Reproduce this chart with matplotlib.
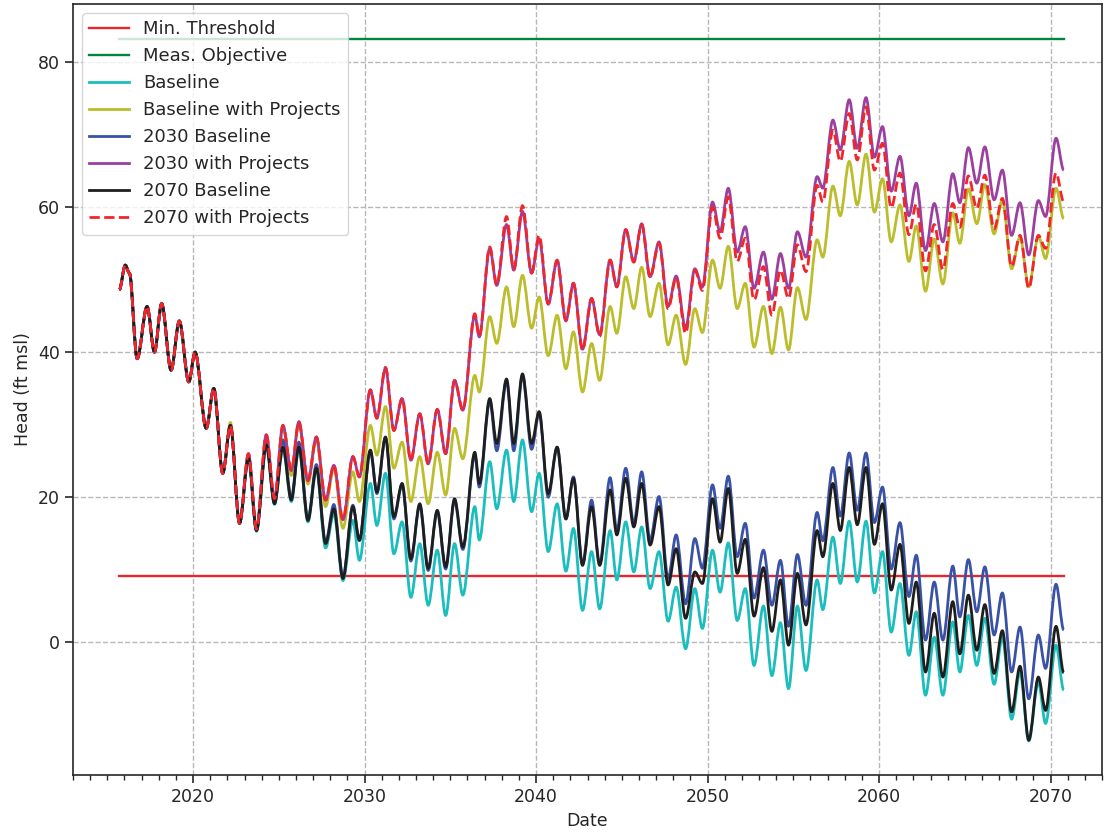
import matplotlib
matplotlib.use("Agg")
import matplotlib.pyplot as plt
from matplotlib.ticker import MultipleLocator
from matplotlib.path import Path
from matplotlib.patches import PathPatch
from matplotlib.lines import Line2D

# shared history before the scenarios split (decimal years, ft msl)
early_dates = [2015.70, 2016.05, 2016.29, 2016.74, 2017.32, 2017.75, 2018.17, 2018.72,
               2019.20, 2019.75, 2020.12, 2020.77, 2021.21, 2021.73]
early_head = [48.6, 52.0, 50.9, 39.1, 46.3, 40.0, 46.7, 37.5,
              44.3, 35.9, 40.0, 29.5, 35.0, 23.3]

# seasonal highs / lows
dates = [
    2022.18, 2022.71,
    2023.23, 2023.70, 2024.27, 2024.75, 2025.24, 2025.73, 2026.17, 2026.70, 2027.19, 2027.73,
    2028.21, 2028.74, 2029.32, 2029.70, 2030.34, 2030.72, 2031.22, 2031.71, 2032.19, 2032.70,
    2033.22, 2033.71, 2034.24, 2034.73, 2035.25, 2035.73, 2036.43, 2036.69, 2037.30, 2037.71,
    2038.28, 2038.70, 2039.21, 2039.74, 2040.18, 2040.71, 2041.23, 2041.74, 2042.18, 2042.71,
    2043.24, 2043.71, 2044.32, 2044.71, 2045.23, 2045.70, 2046.16, 2046.65, 2047.17, 2047.70,
    2048.17, 2048.72, 2049.26, 2049.70, 2050.29, 2050.73, 2051.21, 2051.73, 2052.20, 2052.71,
    2053.26, 2053.75, 2054.25, 2054.72, 2055.24, 2055.74, 2056.39, 2056.72, 2057.31, 2057.74,
    2058.26, 2058.73, 2059.24, 2059.73, 2060.20, 2060.71, 2061.22, 2061.74, 2062.17, 2062.71,
    2063.22, 2063.72, 2064.30, 2064.71, 2065.21, 2065.70, 2066.17, 2066.71, 2067.19, 2067.73,
    2068.22, 2068.73, 2069.29, 2069.71, 2070.32, 2070.77,
]

baseline = [
    29.9, 16.4,
    25.4, 15.3, 27.0, 19.0, 26.7, 19.4, 26.7, 16.6, 23.8, 13.0,
    17.8, 8.5, 16.8, 11.3, 21.9, 16.1, 23.3, 12.2, 16.6, 6.2,
    13.6, 5.1, 12.7, 3.7, 13.6, 6.5, 18.7, 14.1, 24.9, 18.4,
    26.5, 19.4, 27.9, 18.0, 23.3, 12.5, 19.1, 9.8, 15.7, 4.4,
    12.5, 4.6, 15.4, 8.6, 16.6, 9.7, 15.9, 7.4, 12.5, 2.9,
    7.6, -0.9, 7.4, 1.9, 12.7, 6.9, 13.7, 3.0, 7.4, -3.2,
    5.0, -4.6, 2.7, -6.4, 5.0, -3.9, 8.6, 4.5, 14.5, 8.1,
    16.7, 8.3, 16.7, 6.8, 12.5, 1.4, 8.1, -1.8, 4.2, -7.3,
    0.7, -7.3, 2.8, -4.1, 3.7, -3.2, 3.3, -5.8, 0.7, -10.6,
    -4.1, -13.6, -5.5, -11.2, -0.4, -6.6,
]

baseline_proj = [
    30.3, 16.6,
    25.8, 15.5, 28.4, 19.6, 29.7, 23.0, 30.2, 21.8, 28.0, 18.7,
    24.0, 15.7, 23.5, 19.4, 29.9, 25.8, 32.5, 24.0, 27.6, 19.4,
    25.6, 19.1, 26.2, 20.3, 29.5, 25.3, 36.8, 34.5, 44.9, 41.2,
    49.0, 43.5, 50.6, 43.3, 47.6, 39.5, 45.1, 37.7, 42.8, 34.5,
    41.2, 36.1, 46.3, 42.6, 50.4, 46.0, 51.7, 44.9, 49.5, 41.0,
    45.1, 38.3, 46.0, 42.7, 52.7, 48.8, 54.6, 46.0, 49.5, 40.7,
    46.3, 39.8, 46.2, 40.3, 48.9, 44.5, 55.5, 53.1, 62.9, 58.8,
    66.3, 60.3, 67.3, 59.3, 63.9, 55.2, 60.3, 52.5, 57.4, 48.4,
    55.6, 49.4, 59.2, 55.0, 62.5, 57.7, 63.1, 56.3, 61.0, 51.5,
    55.9, 49.0, 56.0, 52.9, 62.6, 58.4,
]

b2030 = [
    29.9, 16.4,
    25.6, 15.4, 27.6, 19.2, 27.9, 19.8, 27.6, 17.0, 24.5, 13.8,
    19.0, 9.0, 18.9, 14.0, 26.4, 20.5, 28.2, 17.0, 21.7, 11.2,
    18.9, 9.9, 18.0, 10.1, 19.5, 12.8, 25.8, 21.4, 33.2, 26.4,
    36.0, 26.4, 36.7, 26.6, 31.6, 20.0, 26.9, 17.0, 22.8, 10.8,
    19.6, 10.8, 22.7, 15.4, 24.0, 16.4, 23.5, 14.1, 20.1, 8.8,
    14.8, 5.3, 14.3, 10.2, 21.7, 15.7, 22.9, 11.8, 16.4, 6.1,
    12.7, 5.1, 11.3, 2.2, 12.1, 5.1, 17.9, 14.0, 24.1, 17.4,
    26.1, 18.2, 26.1, 16.5, 21.4, 10.1, 16.5, 6.3, 12.0, 0.3,
    8.3, 0.3, 10.5, 3.5, 11.4, 4.2, 10.4, 1.0, 6.8, -4.1,
    2.1, -7.8, 1.0, -3.6, 8.0, 1.7,
]

p2030 = [
    29.9, 16.4,
    26.0, 15.6, 28.6, 19.8, 29.9, 23.7, 30.4, 22.3, 28.3, 19.6,
    24.4, 16.9, 25.6, 22.8, 34.8, 30.9, 37.8, 29.2, 33.6, 25.1,
    31.5, 24.6, 32.1, 26.0, 36.1, 32.0, 45.1, 42.1, 54.3, 49.2,
    57.6, 51.3, 59.4, 50.9, 55.6, 46.6, 52.7, 44.3, 49.5, 40.4,
    47.4, 42.4, 52.7, 49.0, 56.9, 52.5, 57.7, 50.4, 55.2, 46.3,
    50.5, 43.3, 51.5, 49.0, 60.7, 56.6, 62.6, 53.8, 57.3, 48.8,
    53.8, 47.3, 53.6, 48.8, 56.6, 53.1, 64.2, 62.6, 72.0, 67.9,
    74.8, 68.1, 75.1, 66.9, 71.1, 62.2, 67.0, 58.8, 63.3, 54.0,
    60.5, 55.2, 64.6, 60.6, 68.2, 63.3, 68.3, 61.0, 65.1, 56.1,
    60.6, 53.4, 60.9, 58.7, 69.5, 65.1,
]

b2070 = [
    29.9, 16.4,
    25.4, 15.4, 27.2, 19.1, 26.9, 19.6, 26.9, 16.8, 24.0, 13.6,
    18.4, 8.8, 18.7, 14.1, 26.5, 20.7, 28.3, 17.3, 21.9, 11.5,
    19.1, 10.2, 18.2, 10.4, 19.8, 13.1, 26.2, 21.9, 33.6, 27.4,
    36.3, 27.4, 37.0, 27.4, 31.8, 20.5, 26.9, 17.0, 22.6, 10.6,
    18.7, 10.6, 21.0, 14.8, 22.6, 15.9, 21.9, 13.4, 18.7, 7.9,
    12.9, 3.3, 9.7, 8.1, 19.8, 13.8, 21.2, 9.5, 14.2, 3.6,
    10.3, 1.5, 8.6, -0.4, 9.5, 2.4, 15.4, 11.8, 21.9, 15.4,
    24.1, 16.2, 24.1, 13.5, 19.1, 7.2, 13.5, 2.6, 8.3, -4.1,
    4.0, -4.8, 5.6, -1.6, 6.5, -1.1, 5.2, -4.3, 1.6, -9.6,
    -3.3, -13.5, -4.8, -9.4, 2.2, -4.2,
]

p2070 = [
    29.9, 16.4,
    26.0, 15.6, 28.6, 19.8, 29.9, 23.7, 30.4, 22.3, 28.3, 19.6,
    24.4, 16.9, 25.6, 22.8, 34.8, 30.9, 37.9, 29.2, 33.6, 25.1,
    31.5, 24.6, 32.1, 26.0, 36.1, 32.0, 45.3, 42.2, 54.5, 49.3,
    58.7, 51.4, 60.2, 50.9, 56.1, 46.7, 52.6, 44.4, 49.5, 40.3,
    47.4, 42.2, 52.7, 49.0, 56.9, 52.4, 57.6, 50.3, 55.0, 46.0,
    50.3, 42.6, 51.3, 48.5, 60.0, 55.7, 61.4, 52.5, 55.7, 47.2,
    51.8, 45.1, 51.3, 47.4, 54.8, 51.1, 63.0, 60.7, 70.6, 66.3,
    72.9, 66.5, 73.8, 65.1, 68.8, 59.9, 64.7, 56.2, 60.4, 51.2,
    57.6, 51.4, 60.5, 57.2, 64.3, 59.8, 64.4, 57.0, 61.2, 51.8,
    56.1, 48.8, 56.1, 54.3, 64.7, 60.7,
]

min_threshold = 9.1
meas_objective = 83.2
line_span = [2015.70, 2070.77]

plt.rcParams["font.family"] = "DejaVu Sans"
txt = "#262626"


def smooth_path(xs, ys):
    # bezier segments between the read highs/lows, flat at each extreme
    verts = [(xs[0], ys[0])]
    codes = [Path.MOVETO]
    for i in range(1, len(xs)):
        dx = xs[i] - xs[i - 1]
        verts += [(xs[i - 1] + dx / 3, ys[i - 1]), (xs[i] - dx / 3, ys[i]), (xs[i], ys[i])]
        codes += [Path.CURVE4] * 3
    return Path(verts, codes)


fig = plt.figure(figsize=(11.05, 8.38), dpi=100)
ax = fig.add_axes([73 / 1105, 1 - 775 / 838, 1029 / 1105, 771 / 838])

x_all = early_dates + dates
lw = 2.0
handles = []
ax.plot(line_span, [min_threshold] * 2, color="#e8262b", lw=1.7, zorder=2)
ax.plot(line_span, [meas_objective] * 2, color="#00873e", lw=1.7, zorder=2)
handles.append(Line2D([], [], color="#e8262b", lw=1.7, label="Min. Threshold"))
handles.append(Line2D([], [], color="#00873e", lw=1.7, label="Meas. Objective"))

series = [
    (baseline, "#1cbdbd", "-", "Baseline"),
    (baseline_proj, "#bcbd2c", "-", "Baseline with Projects"),
    (b2030, "#3a52a5", "-", "2030 Baseline"),
    (p2030, "#9c40a0", "-", "2030 with Projects"),
    (b2070, "#1e1e1e", "-", "2070 Baseline"),
    (p2070, "#f0262b", "--", "2070 with Projects"),
]
for k, (vals, col, ls, name) in enumerate(series):
    path = smooth_path(x_all, early_head + vals)
    ax.add_patch(PathPatch(path, fill=False, edgecolor=col, lw=lw, ls=ls,
                           capstyle="butt", joinstyle="round", zorder=3 + k * 0.1))
    handles.append(Line2D([], [], color=col, lw=lw, ls=ls, label=name))

ax.set_xlim(2013.0, 2073.0)
ax.set_ylim(-18.3, 88.0)
ax.xaxis.set_major_locator(MultipleLocator(10))
ax.xaxis.set_minor_locator(MultipleLocator(1))
ax.yaxis.set_major_locator(MultipleLocator(20))
ax.grid(True, which="major", ls="--", color="#b8b8b8", lw=1.0)
ax.set_axisbelow(True)
ax.tick_params(axis="both", which="major", labelsize=12.5, colors=txt, length=6, width=1.2)
ax.tick_params(axis="x", which="minor", length=3.5, width=1.0, colors=txt)
for s in ax.spines.values():
    s.set_color(txt)
    s.set_linewidth(1.2)

ax.set_xlabel("Date", fontsize=12.5, color=txt)
ax.set_ylabel("Head (ft msl)", fontsize=12.5, color=txt)

leg = ax.legend(handles=handles, loc="upper left", fontsize=13, handlelength=2.2,
                framealpha=0.8, borderpad=0.4)
for t in leg.get_texts():
    t.set_color(txt)

fig.savefig("out.png", dpi=100)
